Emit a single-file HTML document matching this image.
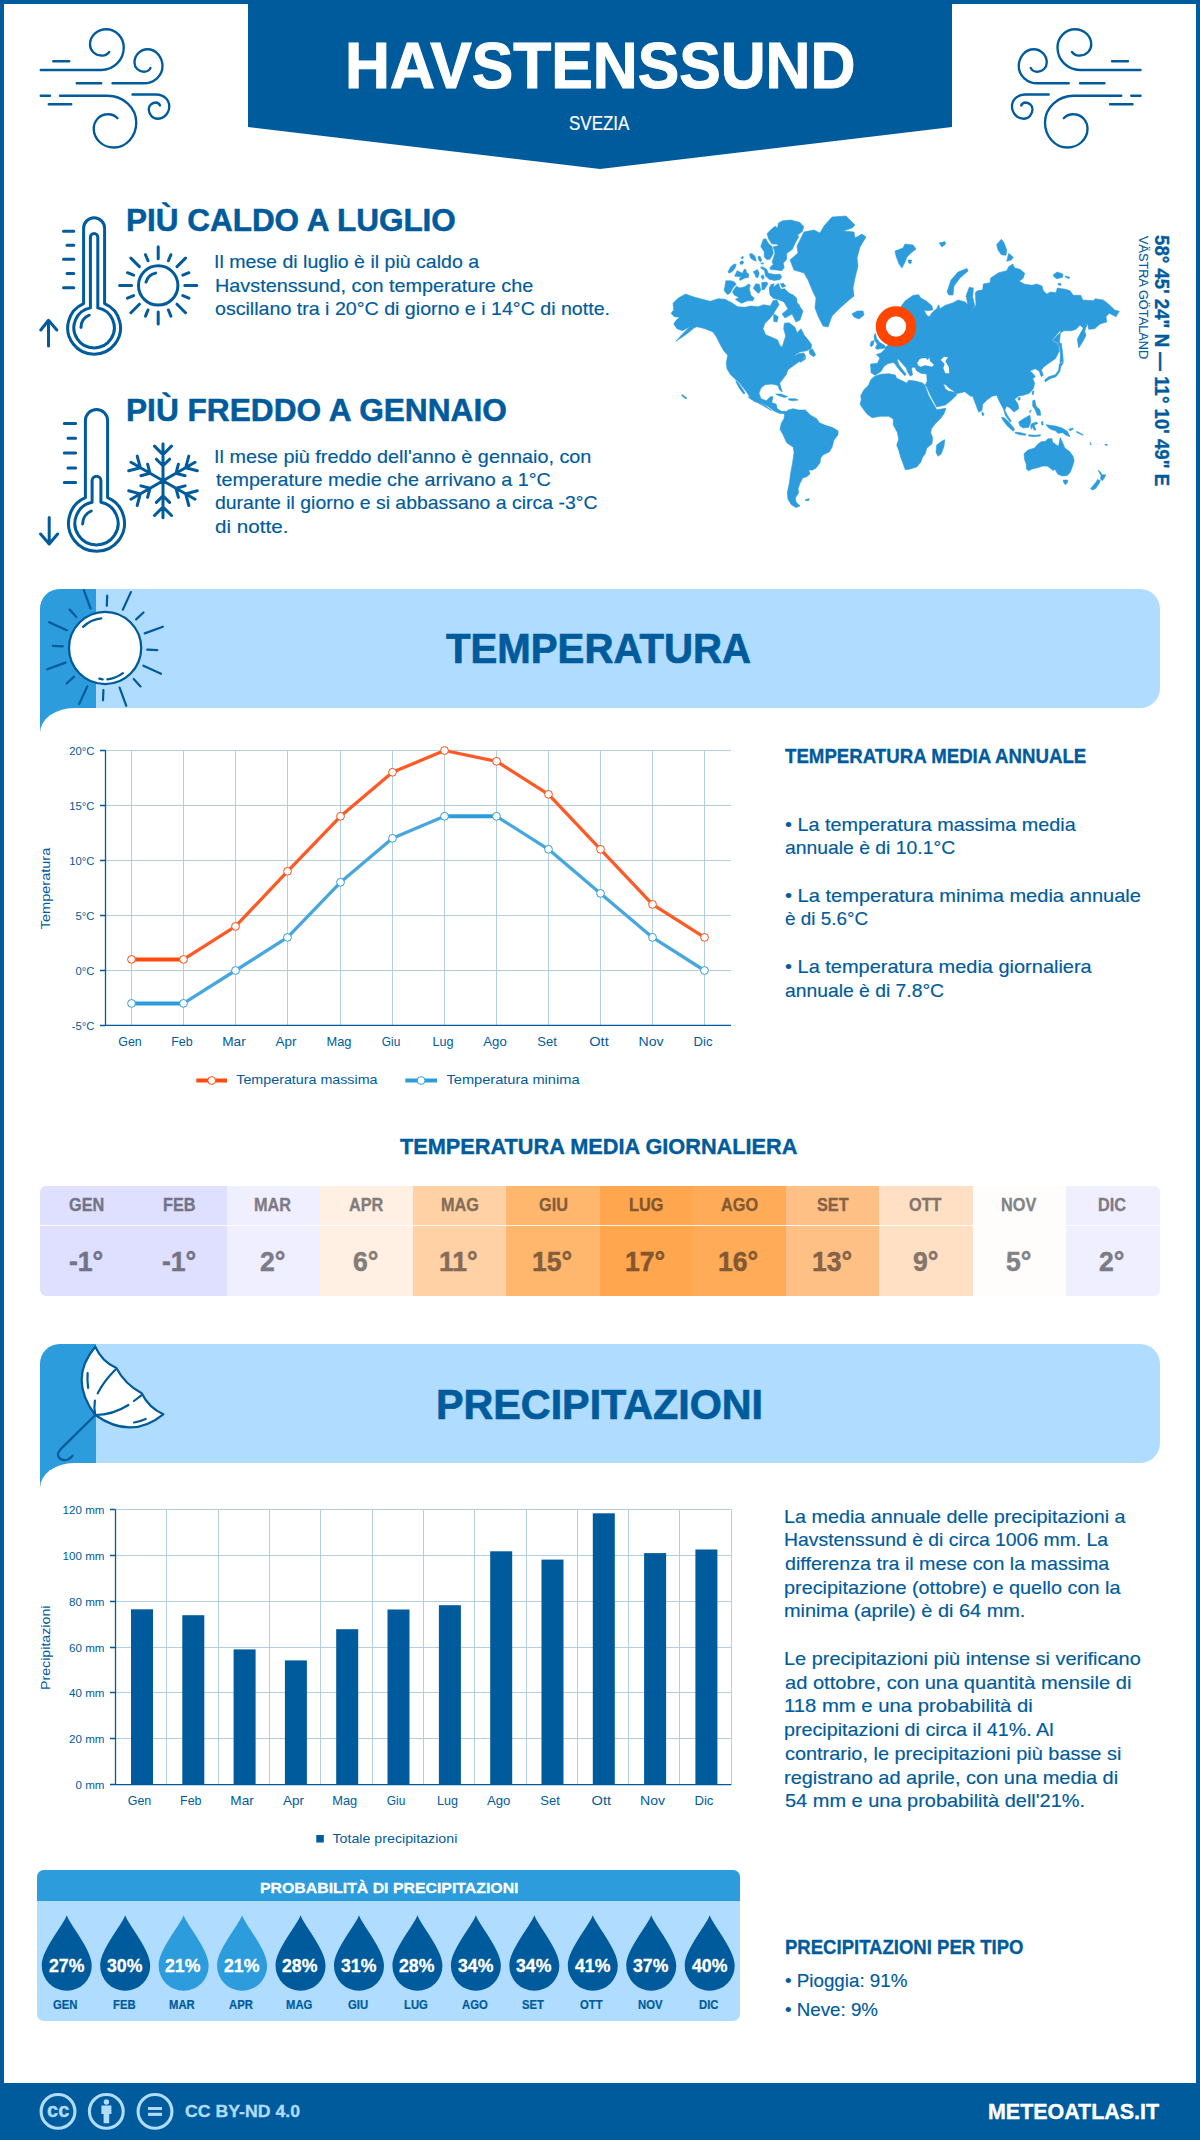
<!DOCTYPE html>
<html lang="it"><head><meta charset="utf-8"><title>Havstenssund</title>
<style>
html,body{margin:0;padding:0}
body{width:1200px;height:2140px;position:relative;overflow:hidden;background:#fff;font-family:"Liberation Sans",sans-serif;color:#005b9c}
.t{position:absolute;white-space:nowrap;line-height:1;transform-origin:0 0}
.a{position:absolute}
svg{position:absolute;left:0;top:0;overflow:visible}
svg text{font-family:"Liberation Sans",sans-serif}
</style></head><body>
<div class="a" style="left:0;top:0;width:1200px;height:4px;background:#005b9c"></div>
<div class="a" style="left:0;top:0;width:4px;height:2140px;background:#005b9c"></div>
<div class="a" style="left:1196px;top:0;width:4px;height:2140px;background:#005b9c"></div>
<div class="a" style="left:0;top:2083px;width:1200px;height:57px;background:#005b9c"></div>
<svg width="1200" height="580" viewBox="0 0 1200 580">
<polygon points="248,0 952,0 952,127 600,169 248,127" fill="#005b9c"/>
<path transform="scale(0.25)" d="M213,245H277M163,280H405A90,90 0 0 0 495,190A70,73 0 0 0 425,117A65,61 0 0 0 360,178A45,44 0 0 0 405,222A35,35 0 0 0 437,208M307,333H405M450,333H575A75,68 0 0 0 650,265A60,68 0 0 0 590,197A52,53 0 0 0 538,250A37,37 0 0 0 575,287A30,30 0 0 0 602,272M530,378H625A52,47 0 0 1 677,425A47,50 0 0 1 630,475A35,38 0 0 1 595,437A30,27 0 0 1 625,410A18,18 0 0 1 640,422M163,383H200M240,383H430A115,107 0 0 1 545,490A90,100 0 0 1 455,590A80,75 0 0 1 375,515A55,58 0 0 1 430,457A50,50 0 0 1 470,473M195,417H285" fill="none" stroke="#005b9c" stroke-width="9.4" stroke-linecap="round"/>
<path transform="translate(1181.25,0) scale(-0.25,0.25)" d="M213,245H277M163,280H405A90,90 0 0 0 495,190A70,73 0 0 0 425,117A65,61 0 0 0 360,178A45,44 0 0 0 405,222A35,35 0 0 0 437,208M307,333H405M450,333H575A75,68 0 0 0 650,265A60,68 0 0 0 590,197A52,53 0 0 0 538,250A37,37 0 0 0 575,287A30,30 0 0 0 602,272M530,378H625A52,47 0 0 1 677,425A47,50 0 0 1 630,475A35,38 0 0 1 595,437A30,27 0 0 1 625,410A18,18 0 0 1 640,422M163,383H200M240,383H430A115,107 0 0 1 545,490A90,100 0 0 1 455,590A80,75 0 0 1 375,515A55,58 0 0 1 430,457A50,50 0 0 1 470,473M195,417H285" fill="none" stroke="#005b9c" stroke-width="9.4" stroke-linecap="round"/>
<path d="M83.6,303.6V228.3A10.5,10.5 0 0 1 104.6,228.3V303.6A26.4,26.4 0 1 1 83.6,303.6ZM90.4,307.9V237.2A3.7,3.7 0 0 1 97.8,237.2V307.9A20.2,20.2 0 1 1 90.4,307.9ZM81,327.5A13.5,13.5 0 0 1 89.2,315.2M63.5,231.2H73.8M67,245.2H73.8M63.5,259.3H73.8M67,273.5H73.8M63.5,287.7H73.8M48.5,346V320.5M40.8,330L48.5,320.3L56.8,330" fill="none" stroke="#005b9c" stroke-width="3.0" stroke-linecap="round" stroke-linejoin="round"/>
<path d="M85.4,497.6V420.6A11.1,11.1 0 0 1 107.6,420.6V497.6A28.0,28.0 0 1 1 85.4,497.6ZM92.1,502.2V480.6A4.4,4.4 0 0 1 100.9,480.6V502.2A21.6,21.6 0 1 1 92.1,502.2ZM82.6,524A14.5,14.5 0 0 1 91.2,511M64.3,423.4H75.6M68,438.3H75.6M64.3,453.1H75.6M68,467.9H75.6M64.3,482.5H75.6M49.2,517.5V543.5M40.6,534L49.2,544L57.6,534" fill="none" stroke="#005b9c" stroke-width="3.0" stroke-linecap="round" stroke-linejoin="round"/>
<path d="M138.5,285.4a19.7,19.7 0 1 0 39.4,0a19.7,19.7 0 1 0 -39.4,0M184.8,285.4L196.8,285.4M182.8,295.6L188.9,298.1M177.0,304.2L185.5,312.7M168.4,310.0L170.9,316.1M158.2,312.0L158.2,324.0M148.0,310.0L145.5,316.1M139.4,304.2L130.9,312.7M133.6,295.6L127.5,298.1M131.6,285.4L119.6,285.4M133.6,275.2L127.5,272.7M139.4,266.6L130.9,258.1M148.0,260.8L145.5,254.7M158.2,258.8L158.2,246.8M168.4,260.8L170.9,254.7M177.0,266.6L185.5,258.1M182.8,275.2L188.9,272.7M146.0,282.1A12.6,12.6 0 0 1 155.6,273.1" fill="none" stroke="#005b9c" stroke-width="3" stroke-linecap="round"/>
<path d="M163.0,480.8L163.0,443.8M163.0,454.6L171.5,446.1M163.0,454.6L154.5,446.1M163.0,465.8L169.6,459.2M163.0,465.8L156.4,459.2M163.0,480.8L131.0,462.3M140.3,467.7L137.2,456.1M140.3,467.7L128.7,470.8M150.0,473.3L147.6,464.2M150.0,473.3L140.9,475.7M163.0,480.8L131.0,499.3M140.3,493.9L128.7,490.8M140.3,493.9L137.2,505.5M150.0,488.3L140.9,485.9M150.0,488.3L147.6,497.4M163.0,480.8L163.0,517.8M163.0,507.0L154.5,515.5M163.0,507.0L171.5,515.5M163.0,495.8L156.4,502.4M163.0,495.8L169.6,502.4M163.0,480.8L195.0,499.3M185.7,493.9L188.8,505.5M185.7,493.9L197.3,490.8M176.0,488.3L178.4,497.4M176.0,488.3L185.1,485.9M163.0,480.8L195.0,462.3M185.7,467.7L197.3,470.8M185.7,467.7L188.8,456.1M176.0,473.3L185.1,475.7M176.0,473.3L178.4,464.2" fill="none" stroke="#005b9c" stroke-width="3" stroke-linecap="round"/>
<path d="M671,313.3 673.7,310 673,303.3 678.3,298 685.7,294 693,296.7 702.3,299.3 710.3,301.3 718.3,298.7 725,299.3 731.7,302.7 737.7,306.7 745,307.3 750.3,306 758.3,306.7 763.7,304.7 770.3,306 773,300.7 777,300 779,304.7 775.7,310 773.7,313.3 770.3,318 765,323.3 763,328.7 765.7,334.7 771.7,337.3 777.7,340 779.7,345.3 782.3,347.3 783.7,342 785.7,336 783.7,328.7 784.3,323.3 789,322.7 795,327.3 797,332.7 801,328.7 804.3,335.3 808.3,340 811.7,344.7 811,348.7 806.3,350.7 799.7,352 796.3,354 793.7,356.7 798.3,353.7 803.7,352.9 805.7,356 799.7,361.3 793,366 787.7,370 786.3,374.7 783,378.7 779.7,383.3 781,388 782.3,392 779.7,390 777.7,385.3 771.7,384 765,384.7 761,388 759,393.3 761,398.7 766.3,400.7 770.3,396.7 773,396.7 771.7,402.7 775.7,404.7 777,410 771.3,402.7 776,404 777.3,408.7 781.3,411.3 786,411.3 784.7,413.7 780,413.6 774,410.9 768,406.3 762,403.6 754.7,401.6 748,396.9 771.7,410.7 766.3,406.3 761,403.6 755.7,401.6 750.3,398.3 747.7,393.6 743.7,388.3 739,382.3 734.3,378.3 730.3,374.3 727,368.7 726.3,362.7 727.7,355.3 723.7,350.7 720.3,344.7 716.3,336.7 713,332 705,328.7 697,326.7 693.7,328 691.7,330 685,335.3 675.7,341.3 683.7,332.7 689.7,326.7 682.3,330.7 677,328.7 673.7,324 676.3,320 679.7,317.3 674.3,316.7ZM809,350.7 812.3,348.7 815.7,354.7 813.7,356.7 809.7,354ZM799.7,360.9 805.7,357.3 805.3,359.3 800.3,362.3ZM735.7,380.7 737.7,382 742.3,388.7 745,393.3 743.7,394 739.7,388.7 737,384ZM775.7,394 781,394 787.7,396.7 784.3,397.5 778.3,395.5ZM788.3,398.7 795,398.7 798.3,400 793,400.8 789,400.1ZM773.7,314 778.3,316.7 777,322 773.7,321.3ZM682,394.6 687,398 686,399 681.6,395.6ZM784.7,413.3 788,410 793.3,408.7 798.7,410 805.3,410 810.7,415.3 816.7,418.7 819.3,422.7 825.3,425.3 832,427.3 838,430.7 838,434.7 834,440 832,447.3 829.3,452 823.3,454.7 820.7,458 820,462.7 816,468 812.7,470 808.7,470 810,474 806.7,476.7 802.7,478 800,483.3 798,488.7 798.7,492.7 795.3,498 796,502 800,506 796,507.6 791.3,504.7 788,499.3 787.3,492.7 789.3,483.3 790.7,472.7 792.7,462 794,452.7 793.3,447.3 786.7,442.7 782.7,434 780,429.3 781.3,423.3 784,418.7ZM805.3,499.6 809.3,498.7 808.7,500.4 805.6,500.7ZM767.1,233.8 770,230.4 775,226.2 777.5,227.9 778.3,223.3 782.5,220.8 790.8,220 800,222.5 803.8,226.7 802.1,231.7 797.5,235 798.8,236.7 795,243.3 792.5,249.2 786.7,253.3 786.7,259.2 783.3,263.3 784.2,267.5 781.7,270.8 776.7,270 770.4,269.6 770,267.5 773.3,264.2 772.1,262.1 775,253.3 773.3,246.7 778.3,245.8 777.5,244.2 771.7,243.8 768.8,239.2ZM760.8,246.7 763.3,239.2 765.8,238.8 768.3,243.3 772.1,246.7 773.3,253.3 770,259.2 766.7,259.6 764.2,256.7 764.2,251.7ZM760.4,267.5 762.5,266.7 766.7,269.2 768.3,273.3 775,274.6 780,274.2 781.7,276.7 780,279.6 774.2,280.4 769.2,279.2 765.4,275.8 764.6,270.8ZM760.8,276.7 762.9,274.6 764.2,277.5 762.9,279.6ZM753.3,271.7 757.5,269.6 759.2,273.3 757.9,277.5 755.8,277.1 755,274.6ZM734.6,276.2 737.1,270.8 742.5,273.3 744.2,269.2 745.8,269.6 746.7,272.9 748.8,273.8 748.3,277.5 745,277.9 740,280.4 739.2,278.3 741.7,276.7ZM727.9,272.1 730.8,266.7 733.8,264.2 736.2,264.2 735,268.3 731.7,272.1 728.8,272.9ZM740,262.1 742.1,260.8 743.8,262.1 742.5,264.2 740.4,264.2ZM740.8,257.9 742.5,256.2 743.8,257.5 742.1,258.8ZM749.6,253.8 752.1,253.8 755,256.2 756.2,261.2 753.3,260 750.4,257.9ZM757.9,256.7 760,256.2 761.7,260 760.4,262.1 758.8,260ZM760.8,262.9 763.3,262.9 763.3,264.2 761.2,263.8ZM725.8,280.8 730.8,280.8 734.2,281.7 736.2,284.2 733.8,286.7 731.7,290 730,293.3 727.5,294.6 724.2,290.8 725,285.8ZM732.5,291.7 736.2,286.2 740,287.9 745,286.7 748.3,284.2 750.4,285 749.2,288.3 750.8,295 754.2,298.3 752.9,300.8 747.5,300.8 741.7,303.3 737.9,301.2 735.4,299.2 739.2,297.5 734.2,295ZM753.3,288.3 755.8,283.8 759.2,284.2 760.8,290 758.8,293.3 756.7,292.1ZM761.7,282.5 766.7,282.1 767.9,283.8 764.6,289.2 762.1,290ZM780.4,283.8 783.3,283.3 785.8,286.2 782.1,287.5ZM769.2,287.9 771.2,284.6 774.2,283.8 773.3,287.5 778.3,283.3 780.8,289.2 784.6,288.8 789.2,293.3 793.3,295 796.7,298.3 797.1,302.5 800,305.8 798,304 803,311 800,320 796,322 792,314 785,318 782,314 788,309 784,302 778.3,299.6 773.3,298.3 770,295ZM790,260 798,253 797,246 804,232 814,230 820,233 824,226 832,217 846,216 855,225 852,228 843,231 854,232 855,238 862,234 866,237 860,247 857,258 858,266 855,278 853,288 854,296 849,300 840,308 832,316 828,327 823,326 818,316 815,308 816,298 813,292 808,280 804,273 794,270 792,265ZM852,314 857,311 863,311 864,315 859,319 854,317ZM887.3,346 890.7,342.7 901.3,306 905.3,300.7 913.3,295.3 918.7,294.7 920.7,298 926.7,301.3 932,306 932.7,310 926.7,310.7 924,310 926.7,315.3 929.3,316.7 932.7,312 936.7,308.7 938.7,304.7 940,308.7 945.3,305.3 953.3,302.7 958,300 965.3,302 968,304.7 966,296 969.3,287.3 973.3,288 972.7,297.3 974.7,305.3 972,310.7 976,304.7 975.3,292.7 977.3,290.7 982.7,290 983.3,284 990,282.7 990.7,278 998.7,272.7 1006.7,270.7 1008.7,266.7 1012.7,264 1014.7,268 1020,269.3 1024.7,273.3 1023.3,278 1019.3,281.3 1024,284 1032,285.3 1036.7,284 1042,286 1043.3,290.7 1046.7,294 1050.7,292 1056,292.7 1057.3,288 1065.3,289.3 1070,290.7 1073.3,295.3 1080.7,295.3 1082.7,300 1093.3,300.7 1095.3,298.7 1103.3,300 1109.3,304.7 1114.7,310 1119.3,311.3 1116,316.7 1109.3,313.3 1106,316.7 1106.7,322 1100,324 1094.7,328.7 1088.7,329.3 1087.3,323.3 1084.7,331.3 1086,335.3 1083.3,340.7 1078.7,348 1077.3,339.3 1080,334 1083.3,328 1080,325.3 1076,329.3 1071.3,330.7 1064,330.7 1058.7,334 1052,340.7 1057.3,343.3 1058.7,350 1060.7,330 1052,340 1058,342.7 1059.3,351.3 1055.3,358.7 1048.7,363.3 1044,366.7 1041.3,370 1043.3,375.3 1041.3,376.7 1039.3,371.3 1035.3,368.7 1030,370.7 1033.3,374 1035.3,376.7 1032.7,378.7 1034.7,383.3 1033.3,388.7 1029.3,393.3 1023.3,395.3 1018.7,396 1014.7,399.3 1018,404 1018.7,408.7 1014,412 1010,408 1006.7,406 1004.7,410 1007.3,415.3 1011.3,421.3 1010,422 1005.3,415.3 1003.3,408.7 1000,402.7 996.7,395.3 992,396.3 987.3,399.7 982.7,404.3 982,410.3 978.7,412.3 976,405 972.7,396.3 970.7,396.3 964.7,391.7 956.7,393.7 952,389.7 949.3,388.3 946,385 943.3,383.7 945.3,389 948.7,391.3 952,391.7 955.3,392.6 956.7,395 951.3,400.3 945.3,405 936.7,407 931.3,397 926.7,387 925.3,385 927.1,381.3 926.7,374.1 921.3,373.4 916.6,370.8 915.1,367.6 912.5,367.1 911.6,369.1 912.5,374.9 910.2,376.1 907.8,372 906.1,367.9 902,363.3 898.5,359.2 897.1,359.8 899.1,365 902.6,369.7 906.1,374.3 904.9,375.7 900.8,371.4 897.3,367.3 895,363.8 893.3,362.4 888,363.6 883.9,366.4 881,371.4 875.2,375.3 871.1,372.9 870.5,364.1 877.5,363.3 879.8,358 876.3,354.5 880.4,353.3 884.5,349.8 886.3,346.3ZM870,345.3 871.3,341.3 874,340.7 873.3,344.7 871.3,346.7ZM875.3,333.3 876.7,338.7 880,342.7 884.7,345.3 885.3,348 877.3,349.3 875.3,348 877.3,344 874.7,340.7 874,336ZM895,251 903,248 905,244 913,245 916,249 911,253 907,257 905,262 902,268 899,264 896,256ZM908,260 911.6,260 911,263.6 908.6,263ZM939,243 945,241.6 945.6,244 942,247ZM947,292 951,280 958,272 967,268.4 968,271 960,278 954,286 953,295 949,295ZM996.7,244.7 1001.3,239.3 1004,242.7 1006.7,250 1006,255.3 1001.3,254.7 998,250ZM1008.7,253.3 1013.3,257.3 1011.3,260 1006.7,261.3ZM1053.3,274.7 1057.3,272 1062.7,274 1062.7,277.3 1056.7,278.7 1054,276.7ZM1065.3,276 1070,277.3 1068.7,278.7 1065.3,276.9ZM1058,283.3 1060.7,283.6 1061.3,285.3 1058.4,285.1ZM1059.3,343.3 1061.3,343.3 1062.7,354 1063.3,361.3 1060,362.7 1060.4,354ZM1044.7,380 1048.7,376.7 1055.3,374.7 1058.7,370 1059.3,364 1063.3,362 1062.7,364 1060.7,366.7 1060,371.3 1056,376.7 1050,378.7 1045.3,382ZM874.7,376.3 880.7,374.3 888.7,373.7 895.3,375 896.7,378.3 902.7,381 906.7,383 908.7,380.3 915.3,381 922.7,383 924.7,385 928.7,395.7 933.3,403.7 936.7,409.7 946,408.3 944,413.7 940.7,418.3 935.3,423.7 931.3,429 930.7,433 932.7,437.7 932,443.7 926.7,448.3 925.3,453.7 922.7,457 920.7,462.3 916.7,467 910,469 905.3,469.7 903.3,464.3 900.7,457 898.7,450.3 896.7,445 898.7,439 897.3,432.3 893.3,425 893.3,419 888.7,416.3 880.7,416.3 872,417.7 866.7,413.7 862.7,408.3 860,404.3 861.3,399.7 860.7,395.7 864,389.7 868.7,385 870.7,379.7ZM936.7,445 942,441 944.7,439.7 944,446.3 941.3,453.7 938,456.3 936,452.3ZM982,411.7 984,413.7 983.3,415.7 982,415ZM1032.4,391.3 1034,390.7 1033.3,394.7 1032,394ZM1018,398 1020,397.3 1020,400 1018.3,400ZM1032.7,400.7 1034.7,400 1036,406 1040,410 1040.7,415.3 1037.3,415.3 1035.3,410 1032.7,406ZM1029.3,411.3 1031.3,410 1030,412.7ZM1018.7,422 1024.7,418 1030,415.3 1030.7,422 1028.7,427.3 1023.3,428 1020,426ZM1001.3,417.3 1004.7,418 1010,423.3 1014.7,429.3 1013.3,431.3 1007.3,426 1003.3,420.7ZM1015.3,432 1020.7,432.7 1026,434 1025.3,435.3 1020,434.7 1015.3,433.3ZM1028.7,434.7 1035.3,435.3 1040.7,434.7 1040,436 1034,436.7 1028.7,436ZM1031.3,424 1036,422 1038,423.3 1034,425.3 1036,430 1034,430 1032.7,426.7 1031.3,429.3 1030.7,426ZM1041.3,422 1042.7,421.3 1043.3,424.7 1042,425.3ZM1046,424.7 1050,425.3 1055.3,426 1062,428 1067.3,431.3 1070,436.7 1066,435.3 1062.7,432.7 1058,433.3 1055.3,430.7 1050.7,429.3 1048,427.3ZM1068.7,429.3 1072.7,428 1073.3,429.3 1070,430.7ZM1076.7,431.3 1083.3,434.7 1082.7,435.3 1076.7,432.4ZM1090,442 1091.3,444.7 1090.7,444.9ZM1104.7,444.7 1107.3,444 1106.7,445.7ZM1024,453.8 1027.5,450.3 1034.5,448 1038,443.9 1041.5,441.6 1045,441.6 1047.9,438.7 1052,438.7 1052.6,442.2 1058.4,446.3 1059.6,441 1060.2,437.5 1062.5,442.2 1064.8,448 1069.5,451.5 1073,456.2 1074.2,460.8 1072.4,466.7 1070.1,472.5 1067.2,475.4 1062.5,476 1057.8,474.3 1054.9,469 1053.2,470.8 1051.4,469 1047.3,466.1 1042.7,466.1 1037.4,467.8 1032.2,469 1028.7,470.8 1026.3,469 1026.3,464.3 1024.6,459.7ZM1063.1,480.1 1067.8,480.1 1067.2,483 1065.4,484.8 1063.7,482.4ZM1098.1,470.2 1100.4,471.9 1102.2,474.8 1105.7,474.8 1104.5,477.8 1102.2,480.7 1100.4,478.9 1101,475.4 1099.3,472.5ZM1097.5,479.5 1100.4,480.7 1098.7,484.2 1095.8,488.3 1092.8,490 1090.5,488.8 1093.4,485.3 1096.3,481.8Z" fill="#2d9cdc" stroke="#2d9cdc" stroke-width="0.6" stroke-linejoin="round"/>
<path d="M917.3,362.7 920,358.7 925.3,358 928,360 929.3,357.3 930,361.3 934,364.7 932,366.7 925.3,365.3 920.7,366.7 918,365.3ZM940.7,360 944,356.7 948,357.3 945.3,361.3 948.7,366.7 949.3,373.3 945.3,373.3 943.3,368 944.7,364Z" fill="#fff"/>
<circle cx="896" cy="326.5" r="15.2" fill="#fff" stroke="#ff4500" stroke-width="10"/>
</svg>
<div class="t" style="left:345.40px;top:34.40px;font-size:64.5px;transform:scaleX(0.9645);color:#fff;font-weight:bold;-webkit-text-stroke:1.10px;">HAVSTENSSUND</div>
<div class="t" style="left:568.75px;top:114.24px;font-size:19.8px;transform:scaleX(0.8577);color:#fff;-webkit-text-stroke:0.18px;">SVEZIA</div>
<div class="t" style="left:125.79px;top:204.97px;font-size:31.7px;transform:scaleX(0.9931);color:#005b9c;font-weight:bold;-webkit-text-stroke:0.54px;">PIÙ CALDO A LUGLIO</div>
<div class="t" style="left:214.40px;top:252.02px;font-size:19.0px;transform:scaleX(1.0285);color:#005b9c;-webkit-text-stroke:0.17px;">Il mese di luglio è il più caldo a</div>
<div class="t" style="left:214.64px;top:275.52px;font-size:19.0px;transform:scaleX(1.0427);color:#005b9c;-webkit-text-stroke:0.17px;">Havstenssund, con temperature che</div>
<div class="t" style="left:215.43px;top:299.12px;font-size:19.0px;transform:scaleX(1.0321);color:#005b9c;-webkit-text-stroke:0.17px;">oscillano tra i 20°C di giorno e i 14°C di notte.</div>
<div class="t" style="left:125.78px;top:394.97px;font-size:31.7px;transform:scaleX(0.9983);color:#005b9c;font-weight:bold;-webkit-text-stroke:0.54px;">PIÙ FREDDO A GENNAIO</div>
<div class="t" style="left:214.37px;top:446.52px;font-size:19.0px;transform:scaleX(1.0433);color:#005b9c;-webkit-text-stroke:0.17px;">Il mese più freddo dell'anno è gennaio, con</div>
<div class="t" style="left:215.94px;top:469.92px;font-size:19.0px;transform:scaleX(1.0387);color:#005b9c;-webkit-text-stroke:0.17px;">temperature medie che arrivano a 1°C</div>
<div class="t" style="left:215.43px;top:493.42px;font-size:19.0px;transform:scaleX(1.0225);color:#005b9c;-webkit-text-stroke:0.17px;">durante il giorno e si abbassano a circa -3°C</div>
<div class="t" style="left:215.39px;top:517.12px;font-size:19.0px;transform:scaleX(1.0851);color:#005b9c;-webkit-text-stroke:0.17px;">di notte.</div>
<div class="t" style="left:1171.74px;top:235.43px;font-size:20.6px;transform:rotate(90deg) scaleX(0.9068);font-weight:bold;-webkit-text-stroke:0.35px;">58° 45' 24" N — 11° 10' 49" E</div>
<div class="t" style="left:1148.58px;top:236.00px;font-size:12.5px;transform:rotate(90deg) scaleX(1.0214);-webkit-text-stroke:0.11px;">VÄSTRA GÖTALAND</div>
<div class="a" style="left:40px;top:589px;width:1120px;height:119px;background:#b0dcff;border-radius:20px 20px 20px 0"></div>
<div class="a" style="left:40px;top:589px;width:56px;height:143px;background:#2d9cdc;border-radius:20px 0 0 0"></div>
<div class="a" style="left:40px;top:708px;width:80px;height:30px;background:#fff;border-radius:34px 0 0 0/25px 0 0 0"></div>
<svg width="1200" height="2140" viewBox="0 0 1200 2140"><circle cx="105.1" cy="648.0" r="36.1" fill="#fff" stroke="#005b9c" stroke-width="2.3"/><path d="M106.8,605.8L107.2,595.7M122.8,609.7L130.9,592.1M136.1,619.4L143.5,612.5M144.7,633.4L162.9,626.7M147.2,649.7L157.3,650.1M143.4,665.7L161.0,673.8M133.7,679.0L140.5,686.4M119.6,687.6L126.3,705.8M103.4,690.2L103.0,700.3M87.4,686.3L79.2,703.9M74.1,676.6L66.6,683.5M65.5,662.6L47.3,669.3M62.9,646.3L52.8,645.9M66.8,630.3L49.1,622.2M76.4,617.0L69.6,609.6M90.5,608.4L83.8,590.2M83.1,626.9A30.5,30.5 0 0 1 101.3,618.4M99.3,678.7L102.7,679.3M107.3,679.3A31,31 0 0 0 122.9,673.1" fill="none" stroke="#005b9c" stroke-width="2.2" stroke-linecap="round"/></svg>
<div class="t" style="left:446.42px;top:627.60px;font-size:41.7px;transform:scaleX(0.9636);color:#005b9c;font-weight:bold;-webkit-text-stroke:0.71px;">TEMPERATURA</div>
<svg width="1200" height="2140" viewBox="0 0 1200 2140"><path d="M105.5,1025.5H731.0M105.5,970.5H731.0M105.5,915.5H731.0M105.5,860.5H731.0M105.5,805.5H731.0M105.5,750.5H731.0M131.5,750.3V1025.4M183.5,750.3V1025.4M235.5,750.3V1025.4M287.5,750.3V1025.4M340.5,750.3V1025.4M392.5,750.3V1025.4M444.5,750.3V1025.4M496.5,750.3V1025.4M548.5,750.3V1025.4M600.5,750.3V1025.4M652.5,750.3V1025.4M704.5,750.3V1025.4" stroke="#b4cee5" stroke-width="1" fill="none"/><path d="M105.5,750.3V1025.4H731.0M100.0,1025.5H105.5M100.0,970.5H105.5M100.0,915.5H105.5M100.0,860.5H105.5M100.0,805.5H105.5M100.0,750.5H105.5" stroke="#005b9c" stroke-width="1.3" fill="none"/><text x="94.5" y="1029.5" font-size="11.3" text-anchor="end" fill="#005b9c">-5°C</text><text x="94.5" y="974.5" font-size="11.3" text-anchor="end" fill="#005b9c">0°C</text><text x="94.5" y="919.5" font-size="11.3" text-anchor="end" fill="#005b9c">5°C</text><text x="94.5" y="864.5" font-size="11.3" text-anchor="end" fill="#005b9c">10°C</text><text x="94.5" y="809.5" font-size="11.3" text-anchor="end" fill="#005b9c">15°C</text><text x="94.5" y="754.5" font-size="11.3" text-anchor="end" fill="#005b9c">20°C</text><text x="130.0" y="1045.6" font-size="12.8" text-anchor="middle" fill="#005b9c" textLength="23.5" lengthAdjust="spacingAndGlyphs">Gen</text><text x="182.0" y="1045.6" font-size="12.8" text-anchor="middle" fill="#005b9c" textLength="21.5" lengthAdjust="spacingAndGlyphs">Feb</text><text x="234.0" y="1045.6" font-size="12.8" text-anchor="middle" fill="#005b9c" textLength="23.5" lengthAdjust="spacingAndGlyphs">Mar</text><text x="286.0" y="1045.6" font-size="12.8" text-anchor="middle" fill="#005b9c" textLength="21" lengthAdjust="spacingAndGlyphs">Apr</text><text x="339.0" y="1045.6" font-size="12.8" text-anchor="middle" fill="#005b9c" textLength="25" lengthAdjust="spacingAndGlyphs">Mag</text><text x="391.0" y="1045.6" font-size="12.8" text-anchor="middle" fill="#005b9c" textLength="18.5" lengthAdjust="spacingAndGlyphs">Giu</text><text x="443.0" y="1045.6" font-size="12.8" text-anchor="middle" fill="#005b9c" textLength="21" lengthAdjust="spacingAndGlyphs">Lug</text><text x="495.0" y="1045.6" font-size="12.8" text-anchor="middle" fill="#005b9c" textLength="23.5" lengthAdjust="spacingAndGlyphs">Ago</text><text x="547.0" y="1045.6" font-size="12.8" text-anchor="middle" fill="#005b9c" textLength="19.5" lengthAdjust="spacingAndGlyphs">Set</text><text x="599.0" y="1045.6" font-size="12.8" text-anchor="middle" fill="#005b9c" textLength="19.5" lengthAdjust="spacingAndGlyphs">Ott</text><text x="651.0" y="1045.6" font-size="12.8" text-anchor="middle" fill="#005b9c" textLength="25" lengthAdjust="spacingAndGlyphs">Nov</text><text x="703.0" y="1045.6" font-size="12.8" text-anchor="middle" fill="#005b9c" textLength="19" lengthAdjust="spacingAndGlyphs">Dic</text><text transform="translate(49.8,888.5) rotate(-90)" font-size="12.8" text-anchor="middle" fill="#005b9c" textLength="81.5" lengthAdjust="spacingAndGlyphs">Temperatura</text><path d="M131.5,959.4L183.5,959.4" stroke="#ff4a0d" stroke-width="4" stroke-linecap="round"/><path d="M183.5,959.4L235.5,926.4" stroke="#ff5a25" stroke-width="3.3" stroke-linecap="round"/><path d="M235.5,926.4L287.5,871.3" stroke="#ff5a25" stroke-width="3.3" stroke-linecap="round"/><path d="M287.5,871.3L340.5,816.3" stroke="#ff5a25" stroke-width="3.3" stroke-linecap="round"/><path d="M340.5,816.3L392.5,772.3" stroke="#ff5a25" stroke-width="3.3" stroke-linecap="round"/><path d="M392.5,772.3L444.5,750.5" stroke="#ff5a25" stroke-width="3.3" stroke-linecap="round"/><path d="M444.5,750.5L496.5,761.3" stroke="#ff5a25" stroke-width="3.3" stroke-linecap="round"/><path d="M496.5,761.3L548.5,794.3" stroke="#ff5a25" stroke-width="3.3" stroke-linecap="round"/><path d="M548.5,794.3L600.5,849.3" stroke="#ff5a25" stroke-width="3.3" stroke-linecap="round"/><path d="M600.5,849.3L652.5,904.4" stroke="#ff5a25" stroke-width="3.3" stroke-linecap="round"/><path d="M652.5,904.4L704.5,937.4" stroke="#ff5a25" stroke-width="3.3" stroke-linecap="round"/><circle cx="131.5" cy="959.4" r="3.9" fill="#fff" stroke="#ff4a0d" stroke-width="1"/><circle cx="183.5" cy="959.4" r="3.9" fill="#fff" stroke="#ff4a0d" stroke-width="1"/><circle cx="235.5" cy="926.4" r="3.9" fill="#fff" stroke="#ff4a0d" stroke-width="1"/><circle cx="287.5" cy="871.3" r="3.9" fill="#fff" stroke="#ff4a0d" stroke-width="1"/><circle cx="340.5" cy="816.3" r="3.9" fill="#fff" stroke="#ff4a0d" stroke-width="1"/><circle cx="392.5" cy="772.3" r="3.9" fill="#fff" stroke="#ff4a0d" stroke-width="1"/><circle cx="444.5" cy="750.5" r="3.9" fill="#fff" stroke="#ff4a0d" stroke-width="1"/><circle cx="496.5" cy="761.3" r="3.9" fill="#fff" stroke="#ff4a0d" stroke-width="1"/><circle cx="548.5" cy="794.3" r="3.9" fill="#fff" stroke="#ff4a0d" stroke-width="1"/><circle cx="600.5" cy="849.3" r="3.9" fill="#fff" stroke="#ff4a0d" stroke-width="1"/><circle cx="652.5" cy="904.4" r="3.9" fill="#fff" stroke="#ff4a0d" stroke-width="1"/><circle cx="704.5" cy="937.4" r="3.9" fill="#fff" stroke="#ff4a0d" stroke-width="1"/><path d="M131.5,1003.4L183.5,1003.4" stroke="#2d9cdc" stroke-width="4" stroke-linecap="round"/><path d="M183.5,1003.4L235.5,970.5" stroke="#46a7e0" stroke-width="3.3" stroke-linecap="round"/><path d="M235.5,970.5L287.5,937.4" stroke="#46a7e0" stroke-width="3.3" stroke-linecap="round"/><path d="M287.5,937.4L340.5,882.3" stroke="#46a7e0" stroke-width="3.3" stroke-linecap="round"/><path d="M340.5,882.3L392.5,838.3" stroke="#46a7e0" stroke-width="3.3" stroke-linecap="round"/><path d="M392.5,838.3L444.5,816.3" stroke="#46a7e0" stroke-width="3.3" stroke-linecap="round"/><path d="M444.5,816.3L496.5,816.3" stroke="#2d9cdc" stroke-width="4" stroke-linecap="round"/><path d="M496.5,816.3L548.5,849.3" stroke="#46a7e0" stroke-width="3.3" stroke-linecap="round"/><path d="M548.5,849.3L600.5,893.4" stroke="#46a7e0" stroke-width="3.3" stroke-linecap="round"/><path d="M600.5,893.4L652.5,937.4" stroke="#46a7e0" stroke-width="3.3" stroke-linecap="round"/><path d="M652.5,937.4L704.5,970.5" stroke="#46a7e0" stroke-width="3.3" stroke-linecap="round"/><circle cx="131.5" cy="1003.4" r="3.9" fill="#fff" stroke="#2d9cdc" stroke-width="1"/><circle cx="183.5" cy="1003.4" r="3.9" fill="#fff" stroke="#2d9cdc" stroke-width="1"/><circle cx="235.5" cy="970.5" r="3.9" fill="#fff" stroke="#2d9cdc" stroke-width="1"/><circle cx="287.5" cy="937.4" r="3.9" fill="#fff" stroke="#2d9cdc" stroke-width="1"/><circle cx="340.5" cy="882.3" r="3.9" fill="#fff" stroke="#2d9cdc" stroke-width="1"/><circle cx="392.5" cy="838.3" r="3.9" fill="#fff" stroke="#2d9cdc" stroke-width="1"/><circle cx="444.5" cy="816.3" r="3.9" fill="#fff" stroke="#2d9cdc" stroke-width="1"/><circle cx="496.5" cy="816.3" r="3.9" fill="#fff" stroke="#2d9cdc" stroke-width="1"/><circle cx="548.5" cy="849.3" r="3.9" fill="#fff" stroke="#2d9cdc" stroke-width="1"/><circle cx="600.5" cy="893.4" r="3.9" fill="#fff" stroke="#2d9cdc" stroke-width="1"/><circle cx="652.5" cy="937.4" r="3.9" fill="#fff" stroke="#2d9cdc" stroke-width="1"/><circle cx="704.5" cy="970.5" r="3.9" fill="#fff" stroke="#2d9cdc" stroke-width="1"/><path d="M196.3,1080.5H227" stroke="#ff4a0d" stroke-width="4"/><circle cx="211.7" cy="1080.5" r="3.9" fill="#fff" stroke="#ff4a0d" stroke-width="1"/><text x="236.3" y="1084.3" font-size="12.8" fill="#005b9c" textLength="141.2" lengthAdjust="spacingAndGlyphs">Temperatura massima</text><path d="M405.3,1080.5H437" stroke="#2d9cdc" stroke-width="4"/><circle cx="421.1" cy="1080.5" r="3.9" fill="#fff" stroke="#2d9cdc" stroke-width="1"/><text x="446.5" y="1084.3" font-size="12.8" fill="#005b9c" textLength="133.0" lengthAdjust="spacingAndGlyphs">Temperatura minima</text></svg>
<div class="t" style="left:784.96px;top:747.21px;font-size:19.6px;transform:scaleX(0.9523);color:#005b9c;font-weight:bold;-webkit-text-stroke:0.33px;">TEMPERATURA MEDIA ANNUALE</div>
<div class="t" style="left:784.92px;top:814.92px;font-size:19.0px;transform:scaleX(1.0418);color:#005b9c;-webkit-text-stroke:0.17px;">• La temperatura massima media</div>
<div class="t" style="left:784.94px;top:838.22px;font-size:19.0px;transform:scaleX(1.0180);color:#005b9c;-webkit-text-stroke:0.17px;">annuale è di 10.1°C</div>
<div class="t" style="left:784.91px;top:885.62px;font-size:19.0px;transform:scaleX(1.0556);color:#005b9c;-webkit-text-stroke:0.17px;">• La temperatura minima media annuale</div>
<div class="t" style="left:784.95px;top:909.42px;font-size:19.0px;transform:scaleX(0.9936);color:#005b9c;-webkit-text-stroke:0.17px;">è di 5.6°C</div>
<div class="t" style="left:784.91px;top:957.12px;font-size:19.0px;transform:scaleX(1.0511);color:#005b9c;-webkit-text-stroke:0.17px;">• La temperatura media giornaliera</div>
<div class="t" style="left:784.94px;top:980.72px;font-size:19.0px;transform:scaleX(1.0160);color:#005b9c;-webkit-text-stroke:0.17px;">annuale è di 7.8°C</div>
<div class="t" style="left:399.96px;top:1136.12px;font-size:22.3px;transform:scaleX(0.9743);color:#005b9c;font-weight:bold;-webkit-text-stroke:0.38px;">TEMPERATURA MEDIA GIORNALIERA</div>
<div class="a" style="left:40px;top:1186px;width:1119.5px;height:109.6px;border-radius:6px;overflow:hidden">
<div class="a" style="left:0.00px;top:0;width:93.75px;height:110px;background:#dfdfff"></div><div class="a" style="left:93.25px;top:0;width:93.75px;height:110px;background:#dfdfff"></div><div class="a" style="left:186.50px;top:0;width:93.75px;height:110px;background:#f0efff"></div><div class="a" style="left:279.75px;top:0;width:93.75px;height:110px;background:#fff0e3"></div><div class="a" style="left:373.00px;top:0;width:93.75px;height:110px;background:#ffd1a4"></div><div class="a" style="left:466.25px;top:0;width:93.75px;height:110px;background:#ffb66d"></div><div class="a" style="left:559.50px;top:0;width:93.75px;height:110px;background:#ffa64f"></div><div class="a" style="left:652.75px;top:0;width:93.75px;height:110px;background:#ffab58"></div><div class="a" style="left:746.00px;top:0;width:93.75px;height:110px;background:#ffc085"></div><div class="a" style="left:839.25px;top:0;width:93.75px;height:110px;background:#ffe0c5"></div><div class="a" style="left:932.50px;top:0;width:93.75px;height:110px;background:#fefdfb"></div><div class="a" style="left:1025.75px;top:0;width:93.75px;height:110px;background:#f0efff"></div><div class="a" style="left:0;top:39px;width:1120px;height:1.4px;background:rgba(255,255,255,.85)"></div>
</div>
<div class="t" style="left:69.19px;top:1196.99px;font-size:17.5px;transform:scaleX(0.9300);color:#737386;font-weight:bold;-webkit-text-stroke:0.30px;">GEN</div>
<div class="t" style="left:68.99px;top:1247.61px;font-size:27.4px;transform:scaleX(0.9700);color:#737386;font-weight:bold;-webkit-text-stroke:0.47px;">-1°</div>
<div class="t" style="left:163.43px;top:1196.99px;font-size:17.5px;transform:scaleX(0.9300);color:#737386;font-weight:bold;-webkit-text-stroke:0.30px;">FEB</div>
<div class="t" style="left:162.24px;top:1247.61px;font-size:27.4px;transform:scaleX(0.9700);color:#737386;font-weight:bold;-webkit-text-stroke:0.47px;">-1°</div>
<div class="t" style="left:254.23px;top:1196.99px;font-size:17.5px;transform:scaleX(0.9300);color:#7c7b86;font-weight:bold;-webkit-text-stroke:0.30px;">MAR</div>
<div class="t" style="left:259.98px;top:1247.61px;font-size:27.4px;transform:scaleX(0.9700);color:#7c7b86;font-weight:bold;-webkit-text-stroke:0.47px;">2°</div>
<div class="t" style="left:349.23px;top:1196.99px;font-size:17.5px;transform:scaleX(0.9300);color:#847c78;font-weight:bold;-webkit-text-stroke:0.30px;">APR</div>
<div class="t" style="left:353.16px;top:1247.61px;font-size:27.4px;transform:scaleX(0.9700);color:#847c78;font-weight:bold;-webkit-text-stroke:0.47px;">6°</div>
<div class="t" style="left:440.62px;top:1196.99px;font-size:17.5px;transform:scaleX(0.9300);color:#846c58;font-weight:bold;-webkit-text-stroke:0.30px;">MAG</div>
<div class="t" style="left:439.38px;top:1247.61px;font-size:27.4px;transform:scaleX(0.9700);color:#846c58;font-weight:bold;-webkit-text-stroke:0.47px;">11°</div>
<div class="t" style="left:538.52px;top:1196.99px;font-size:17.5px;transform:scaleX(0.9300);color:#845e3c;font-weight:bold;-webkit-text-stroke:0.30px;">GIU</div>
<div class="t" style="left:531.90px;top:1247.61px;font-size:27.4px;transform:scaleX(0.9700);color:#845e3c;font-weight:bold;-webkit-text-stroke:0.47px;">15°</div>
<div class="t" style="left:628.92px;top:1196.99px;font-size:17.5px;transform:scaleX(0.9300);color:#84562d;font-weight:bold;-webkit-text-stroke:0.30px;">LUG</div>
<div class="t" style="left:625.15px;top:1247.61px;font-size:27.4px;transform:scaleX(0.9700);color:#84562d;font-weight:bold;-webkit-text-stroke:0.47px;">17°</div>
<div class="t" style="left:721.01px;top:1196.99px;font-size:17.5px;transform:scaleX(0.9300);color:#845931;font-weight:bold;-webkit-text-stroke:0.30px;">AGO</div>
<div class="t" style="left:718.40px;top:1247.61px;font-size:27.4px;transform:scaleX(0.9700);color:#845931;font-weight:bold;-webkit-text-stroke:0.47px;">16°</div>
<div class="t" style="left:816.64px;top:1196.99px;font-size:17.5px;transform:scaleX(0.9300);color:#846348;font-weight:bold;-webkit-text-stroke:0.30px;">SET</div>
<div class="t" style="left:811.65px;top:1247.61px;font-size:27.4px;transform:scaleX(0.9700);color:#846348;font-weight:bold;-webkit-text-stroke:0.47px;">13°</div>
<div class="t" style="left:909.37px;top:1196.99px;font-size:17.5px;transform:scaleX(0.9300);color:#847469;font-weight:bold;-webkit-text-stroke:0.30px;">OTT</div>
<div class="t" style="left:912.73px;top:1247.61px;font-size:27.4px;transform:scaleX(0.9700);color:#847469;font-weight:bold;-webkit-text-stroke:0.47px;">9°</div>
<div class="t" style="left:1001.05px;top:1196.99px;font-size:17.5px;transform:scaleX(0.9300);color:#838284;font-weight:bold;-webkit-text-stroke:0.30px;">NOV</div>
<div class="t" style="left:1005.98px;top:1247.61px;font-size:27.4px;transform:scaleX(0.9700);color:#838284;font-weight:bold;-webkit-text-stroke:0.47px;">5°</div>
<div class="t" style="left:1098.08px;top:1196.99px;font-size:17.5px;transform:scaleX(0.9300);color:#7c7b86;font-weight:bold;-webkit-text-stroke:0.30px;">DIC</div>
<div class="t" style="left:1099.23px;top:1247.61px;font-size:27.4px;transform:scaleX(0.9700);color:#7c7b86;font-weight:bold;-webkit-text-stroke:0.47px;">2°</div>
<div class="a" style="left:40px;top:1344px;width:1120px;height:119px;background:#b0dcff;border-radius:20px 20px 20px 0"></div>
<div class="a" style="left:40px;top:1344px;width:56px;height:143px;background:#2d9cdc;border-radius:20px 0 0 0"></div>
<div class="a" style="left:40px;top:1463px;width:80px;height:30px;background:#fff;border-radius:34px 0 0 0/25px 0 0 0"></div>
<svg width="1200" height="2140" viewBox="0 0 1200 2140"><path d="M95.3,1346.7Q102.0,1361.7 116.4,1368.1Q124.7,1384.3 141.7,1393.3Q148.7,1407.7 163.3,1414.3Q131.3,1440.3 95.3,1415.0Q68.0,1379.0 95.3,1346.7Z" fill="#fff" stroke="#005b9c" stroke-width="2.2" stroke-linejoin="round"/><path d="M115.3,1369.7Q103.3,1381.7 97.7,1393.4M94.9,1400.6Q93.7,1407.7 95.3,1415.0M95.3,1415.0Q112.7,1415.0 128.4,1405.0M134.0,1401.0L141.3,1395.3M87.6,1373.0Q87.1,1380.3 88.1,1387.9M134.0,1422.5Q140.7,1421.4 145.7,1419.0M95.3,1415.0L60.4,1449.4Q55.3,1455.0 60.9,1459.3Q66.7,1462.3 72.7,1455.7" fill="none" stroke="#005b9c" stroke-width="2.2" stroke-linecap="round" stroke-linejoin="round"/></svg>
<div class="t" style="left:436.08px;top:1383.60px;font-size:41.7px;transform:scaleX(0.9899);color:#005b9c;font-weight:bold;-webkit-text-stroke:0.71px;">PRECIPITAZIONI</div>
<svg width="1200" height="2140" viewBox="0 0 1200 2140"><path d="M115.5,1784.5H731.3M115.5,1738.5H731.3M115.5,1692.5H731.3M115.5,1647.5H731.3M115.5,1601.5H731.3M115.5,1555.5H731.3M115.5,1509.5H731.3M166.5,1509.6V1784.6M218.5,1509.6V1784.6M269.5,1509.6V1784.6M320.5,1509.6V1784.6M372.5,1509.6V1784.6M423.5,1509.6V1784.6M474.5,1509.6V1784.6M526.5,1509.6V1784.6M577.5,1509.6V1784.6M628.5,1509.6V1784.6M679.5,1509.6V1784.6M731.5,1509.6V1784.6" stroke="#b4cee5" stroke-width="1" fill="none"/><rect x="131.0" y="1609.3" width="22" height="175.3" fill="#005b9c"/><rect x="182.3" y="1615.2" width="22" height="169.4" fill="#005b9c"/><rect x="233.6" y="1649.4" width="22" height="135.2" fill="#005b9c"/><rect x="284.9" y="1660.4" width="22" height="124.2" fill="#005b9c"/><rect x="336.2" y="1629.2" width="22" height="155.4" fill="#005b9c"/><rect x="387.5" y="1609.5" width="22" height="175.1" fill="#005b9c"/><rect x="438.9" y="1605.2" width="22" height="179.4" fill="#005b9c"/><rect x="490.2" y="1551.3" width="22" height="233.3" fill="#005b9c"/><rect x="541.5" y="1559.6" width="22" height="225.0" fill="#005b9c"/><rect x="592.8" y="1513.3" width="22" height="271.3" fill="#005b9c"/><rect x="644.1" y="1553.1" width="22" height="231.5" fill="#005b9c"/><rect x="695.4" y="1549.5" width="22" height="235.1" fill="#005b9c"/><path d="M115.5,1509.6V1784.6H731.3M110.0,1784.5H115.5M110.0,1738.5H115.5M110.0,1692.5H115.5M110.0,1647.5H115.5M110.0,1601.5H115.5M110.0,1555.5H115.5M110.0,1509.5H115.5" stroke="#005b9c" stroke-width="1.3" fill="none"/><text x="104.5" y="1788.7" font-size="11.6" text-anchor="end" fill="#005b9c">0 mm</text><text x="104.5" y="1742.7" font-size="11.6" text-anchor="end" fill="#005b9c">20 mm</text><text x="104.5" y="1696.7" font-size="11.6" text-anchor="end" fill="#005b9c">40 mm</text><text x="104.5" y="1651.7" font-size="11.6" text-anchor="end" fill="#005b9c">60 mm</text><text x="104.5" y="1605.7" font-size="11.6" text-anchor="end" fill="#005b9c">80 mm</text><text x="104.5" y="1559.7" font-size="11.6" text-anchor="end" fill="#005b9c">100 mm</text><text x="104.5" y="1513.7" font-size="11.6" text-anchor="end" fill="#005b9c">120 mm</text><text x="139.5" y="1804.6" font-size="12.8" text-anchor="middle" fill="#005b9c" textLength="23.5" lengthAdjust="spacingAndGlyphs">Gen</text><text x="190.8" y="1804.6" font-size="12.8" text-anchor="middle" fill="#005b9c" textLength="21.5" lengthAdjust="spacingAndGlyphs">Feb</text><text x="242.1" y="1804.6" font-size="12.8" text-anchor="middle" fill="#005b9c" textLength="23.5" lengthAdjust="spacingAndGlyphs">Mar</text><text x="293.4" y="1804.6" font-size="12.8" text-anchor="middle" fill="#005b9c" textLength="21" lengthAdjust="spacingAndGlyphs">Apr</text><text x="344.7" y="1804.6" font-size="12.8" text-anchor="middle" fill="#005b9c" textLength="25" lengthAdjust="spacingAndGlyphs">Mag</text><text x="396.0" y="1804.6" font-size="12.8" text-anchor="middle" fill="#005b9c" textLength="18.5" lengthAdjust="spacingAndGlyphs">Giu</text><text x="447.4" y="1804.6" font-size="12.8" text-anchor="middle" fill="#005b9c" textLength="21" lengthAdjust="spacingAndGlyphs">Lug</text><text x="498.7" y="1804.6" font-size="12.8" text-anchor="middle" fill="#005b9c" textLength="23.5" lengthAdjust="spacingAndGlyphs">Ago</text><text x="550.0" y="1804.6" font-size="12.8" text-anchor="middle" fill="#005b9c" textLength="19.5" lengthAdjust="spacingAndGlyphs">Set</text><text x="601.3" y="1804.6" font-size="12.8" text-anchor="middle" fill="#005b9c" textLength="19.5" lengthAdjust="spacingAndGlyphs">Ott</text><text x="652.6" y="1804.6" font-size="12.8" text-anchor="middle" fill="#005b9c" textLength="25" lengthAdjust="spacingAndGlyphs">Nov</text><text x="703.9" y="1804.6" font-size="12.8" text-anchor="middle" fill="#005b9c" textLength="19" lengthAdjust="spacingAndGlyphs">Dic</text><text transform="translate(49.8,1647.8) rotate(-90)" font-size="12.8" text-anchor="middle" fill="#005b9c" textLength="84.5" lengthAdjust="spacingAndGlyphs">Precipitazioni</text><rect x="316.3" y="1835" width="7.5" height="7.5" fill="#005b9c"/><text x="332.5" y="1843" font-size="12.8" fill="#005b9c" textLength="124.8" lengthAdjust="spacingAndGlyphs">Totale precipitazioni</text></svg>
<div class="t" style="left:784.14px;top:1506.62px;font-size:19.0px;transform:scaleX(1.0398);color:#005b9c;-webkit-text-stroke:0.17px;">La media annuale delle precipitazioni a</div>
<div class="t" style="left:784.17px;top:1530.12px;font-size:19.0px;transform:scaleX(1.0197);color:#005b9c;-webkit-text-stroke:0.17px;">Havstenssund è di circa 1006 mm. La</div>
<div class="t" style="left:784.92px;top:1553.72px;font-size:19.0px;transform:scaleX(1.0351);color:#005b9c;-webkit-text-stroke:0.17px;">differenza tra il mese con la massima</div>
<div class="t" style="left:784.39px;top:1577.52px;font-size:19.0px;transform:scaleX(1.0445);color:#005b9c;-webkit-text-stroke:0.17px;">precipitazione (ottobre) e quello con la</div>
<div class="t" style="left:784.39px;top:1601.22px;font-size:19.0px;transform:scaleX(1.0486);color:#005b9c;-webkit-text-stroke:0.17px;">minima (aprile) è di 64 mm.</div>
<div class="t" style="left:784.13px;top:1648.72px;font-size:19.0px;transform:scaleX(1.0490);color:#005b9c;-webkit-text-stroke:0.17px;">Le precipitazioni più intense si verificano</div>
<div class="t" style="left:784.91px;top:1672.52px;font-size:19.0px;transform:scaleX(1.0578);color:#005b9c;-webkit-text-stroke:0.17px;">ad ottobre, con una quantità mensile di</div>
<div class="t" style="left:784.23px;top:1696.22px;font-size:19.0px;transform:scaleX(1.0672);color:#005b9c;-webkit-text-stroke:0.17px;">118 mm e una probabilità di</div>
<div class="t" style="left:784.40px;top:1719.82px;font-size:19.0px;transform:scaleX(1.0379);color:#005b9c;-webkit-text-stroke:0.17px;">precipitazioni di circa il 41%. Al</div>
<div class="t" style="left:784.91px;top:1743.72px;font-size:19.0px;transform:scaleX(1.0476);color:#005b9c;-webkit-text-stroke:0.17px;">contrario, le precipitazioni più basse si</div>
<div class="t" style="left:784.39px;top:1767.52px;font-size:19.0px;transform:scaleX(1.0510);color:#005b9c;-webkit-text-stroke:0.17px;">registrano ad aprile, con una media di</div>
<div class="t" style="left:784.91px;top:1791.22px;font-size:19.0px;transform:scaleX(1.0507);color:#005b9c;-webkit-text-stroke:0.17px;">54 mm e una probabilità dell'21%.</div>
<div class="a" style="left:37px;top:1870px;width:703px;height:151px;background:#b0dcff;border-radius:7px;overflow:hidden"><div class="a" style="left:0;top:0;width:703px;height:30.8px;background:#2d9cdc"></div></div>
<div class="t" style="left:259.94px;top:1879.80px;font-size:15px;transform:scaleX(1.0562);color:#fff;font-weight:bold;-webkit-text-stroke:0.26px;">PROBABILITÀ DI PRECIPITAZIONI</div>
<svg width="1200" height="2140" viewBox="0 0 1200 2140"><path transform="translate(66.75,1915.3)" d="M0,0C4,11 25,34 25,50.4A25,25 0 0 1 -25,50.4C-25,34 -4,11 0,0Z" fill="#005b9c"/><path transform="translate(125.20,1915.3)" d="M0,0C4,11 25,34 25,50.4A25,25 0 0 1 -25,50.4C-25,34 -4,11 0,0Z" fill="#005b9c"/><path transform="translate(183.65,1915.3)" d="M0,0C4,11 25,34 25,50.4A25,25 0 0 1 -25,50.4C-25,34 -4,11 0,0Z" fill="#2d9cdc"/><path transform="translate(242.10,1915.3)" d="M0,0C4,11 25,34 25,50.4A25,25 0 0 1 -25,50.4C-25,34 -4,11 0,0Z" fill="#2d9cdc"/><path transform="translate(300.55,1915.3)" d="M0,0C4,11 25,34 25,50.4A25,25 0 0 1 -25,50.4C-25,34 -4,11 0,0Z" fill="#005b9c"/><path transform="translate(359.00,1915.3)" d="M0,0C4,11 25,34 25,50.4A25,25 0 0 1 -25,50.4C-25,34 -4,11 0,0Z" fill="#005b9c"/><path transform="translate(417.45,1915.3)" d="M0,0C4,11 25,34 25,50.4A25,25 0 0 1 -25,50.4C-25,34 -4,11 0,0Z" fill="#005b9c"/><path transform="translate(475.90,1915.3)" d="M0,0C4,11 25,34 25,50.4A25,25 0 0 1 -25,50.4C-25,34 -4,11 0,0Z" fill="#005b9c"/><path transform="translate(534.35,1915.3)" d="M0,0C4,11 25,34 25,50.4A25,25 0 0 1 -25,50.4C-25,34 -4,11 0,0Z" fill="#005b9c"/><path transform="translate(592.80,1915.3)" d="M0,0C4,11 25,34 25,50.4A25,25 0 0 1 -25,50.4C-25,34 -4,11 0,0Z" fill="#005b9c"/><path transform="translate(651.25,1915.3)" d="M0,0C4,11 25,34 25,50.4A25,25 0 0 1 -25,50.4C-25,34 -4,11 0,0Z" fill="#005b9c"/><path transform="translate(709.70,1915.3)" d="M0,0C4,11 25,34 25,50.4A25,25 0 0 1 -25,50.4C-25,34 -4,11 0,0Z" fill="#005b9c"/></svg>
<div class="t" style="left:48.55px;top:1958.29px;font-size:17.5px;transform:scaleX(1.0100);color:#fff;font-weight:bold;-webkit-text-stroke:0.30px;">27%</div>
<div class="t" style="left:53.45px;top:1998.64px;font-size:12px;transform:scaleX(0.9400);color:#005b9c;font-weight:bold;-webkit-text-stroke:0.20px;">GEN</div>
<div class="t" style="left:107.12px;top:1958.29px;font-size:17.5px;transform:scaleX(1.0100);color:#fff;font-weight:bold;-webkit-text-stroke:0.30px;">30%</div>
<div class="t" style="left:112.60px;top:1998.64px;font-size:12px;transform:scaleX(0.9400);color:#005b9c;font-weight:bold;-webkit-text-stroke:0.20px;">FEB</div>
<div class="t" style="left:165.45px;top:1958.29px;font-size:17.5px;transform:scaleX(1.0100);color:#fff;font-weight:bold;-webkit-text-stroke:0.30px;">21%</div>
<div class="t" style="left:169.41px;top:1998.64px;font-size:12px;transform:scaleX(0.9400);color:#005b9c;font-weight:bold;-webkit-text-stroke:0.20px;">MAR</div>
<div class="t" style="left:223.90px;top:1958.29px;font-size:17.5px;transform:scaleX(1.0100);color:#fff;font-weight:bold;-webkit-text-stroke:0.30px;">21%</div>
<div class="t" style="left:229.03px;top:1998.64px;font-size:12px;transform:scaleX(0.9400);color:#005b9c;font-weight:bold;-webkit-text-stroke:0.20px;">APR</div>
<div class="t" style="left:282.35px;top:1958.29px;font-size:17.5px;transform:scaleX(1.0100);color:#fff;font-weight:bold;-webkit-text-stroke:0.30px;">28%</div>
<div class="t" style="left:286.19px;top:1998.64px;font-size:12px;transform:scaleX(0.9400);color:#005b9c;font-weight:bold;-webkit-text-stroke:0.20px;">MAG</div>
<div class="t" style="left:340.93px;top:1958.29px;font-size:17.5px;transform:scaleX(1.0100);color:#fff;font-weight:bold;-webkit-text-stroke:0.30px;">31%</div>
<div class="t" style="left:347.87px;top:1998.64px;font-size:12px;transform:scaleX(0.9400);color:#005b9c;font-weight:bold;-webkit-text-stroke:0.20px;">GIU</div>
<div class="t" style="left:399.25px;top:1958.29px;font-size:17.5px;transform:scaleX(1.0100);color:#fff;font-weight:bold;-webkit-text-stroke:0.30px;">28%</div>
<div class="t" style="left:404.32px;top:1998.64px;font-size:12px;transform:scaleX(0.9400);color:#005b9c;font-weight:bold;-webkit-text-stroke:0.20px;">LUG</div>
<div class="t" style="left:457.83px;top:1958.29px;font-size:17.5px;transform:scaleX(1.0100);color:#fff;font-weight:bold;-webkit-text-stroke:0.30px;">34%</div>
<div class="t" style="left:461.95px;top:1998.64px;font-size:12px;transform:scaleX(0.9400);color:#005b9c;font-weight:bold;-webkit-text-stroke:0.20px;">AGO</div>
<div class="t" style="left:516.28px;top:1958.29px;font-size:17.5px;transform:scaleX(1.0100);color:#fff;font-weight:bold;-webkit-text-stroke:0.30px;">34%</div>
<div class="t" style="left:522.05px;top:1998.64px;font-size:12px;transform:scaleX(0.9400);color:#005b9c;font-weight:bold;-webkit-text-stroke:0.20px;">SET</div>
<div class="t" style="left:574.79px;top:1958.29px;font-size:17.5px;transform:scaleX(1.0100);color:#fff;font-weight:bold;-webkit-text-stroke:0.30px;">41%</div>
<div class="t" style="left:580.14px;top:1998.64px;font-size:12px;transform:scaleX(0.9400);color:#005b9c;font-weight:bold;-webkit-text-stroke:0.20px;">OTT</div>
<div class="t" style="left:633.18px;top:1958.29px;font-size:17.5px;transform:scaleX(1.0100);color:#fff;font-weight:bold;-webkit-text-stroke:0.30px;">37%</div>
<div class="t" style="left:637.54px;top:1998.64px;font-size:12px;transform:scaleX(0.9400);color:#005b9c;font-weight:bold;-webkit-text-stroke:0.20px;">NOV</div>
<div class="t" style="left:691.69px;top:1958.29px;font-size:17.5px;transform:scaleX(1.0100);color:#fff;font-weight:bold;-webkit-text-stroke:0.30px;">40%</div>
<div class="t" style="left:698.57px;top:1998.64px;font-size:12px;transform:scaleX(0.9400);color:#005b9c;font-weight:bold;-webkit-text-stroke:0.20px;">DIC</div>
<div class="t" style="left:784.54px;top:1937.07px;font-size:20px;transform:scaleX(0.9265);color:#005b9c;font-weight:bold;-webkit-text-stroke:0.34px;">PRECIPITAZIONI PER TIPO</div>
<div class="t" style="left:784.96px;top:1970.62px;font-size:19.0px;transform:scaleX(0.9878);color:#005b9c;-webkit-text-stroke:0.17px;">• Pioggia: 91%</div>
<div class="t" style="left:784.96px;top:1999.62px;font-size:19.0px;transform:scaleX(0.9863);color:#005b9c;-webkit-text-stroke:0.17px;">• Neve: 9%</div>
<svg width="1200" height="2140" viewBox="0 0 1200 2140"><circle cx="58" cy="2111.4" r="16.9" fill="none" stroke="#b0dcff" stroke-width="3.1"/><circle cx="106.3" cy="2111.4" r="16.9" fill="none" stroke="#b0dcff" stroke-width="3.1"/><circle cx="155" cy="2111.4" r="16.9" fill="none" stroke="#b0dcff" stroke-width="3.1"/><circle cx="106.4" cy="2102" r="2.7" fill="#b0dcff"/><path d="M101.4,2105.6h10v8.4h-2.2v9.2h-5.6v-9.2h-2.2z" fill="#b0dcff"/><rect x="148" y="2107" width="14" height="3" fill="#b0dcff"/><rect x="148" y="2112.8" width="14" height="3.1" fill="#b0dcff"/></svg>
<div class="t" style="left:46.88px;top:2099.22px;font-size:21px;transform:scaleX(0.9545);color:#b0dcff;font-weight:bold;-webkit-text-stroke:0.36px;">cc</div>
<div class="t" style="left:185.00px;top:2103.93px;font-size:15.8px;transform:scaleX(1.1204);color:#b0dcff;font-weight:bold;-webkit-text-stroke:0.27px;">CC BY-ND 4.0</div>
<div class="t" style="left:987.56px;top:2101.04px;font-size:22.4px;transform:scaleX(0.9572);color:#fff;font-weight:bold;-webkit-text-stroke:0.38px;">METEOATLAS.IT</div>
</body></html>
